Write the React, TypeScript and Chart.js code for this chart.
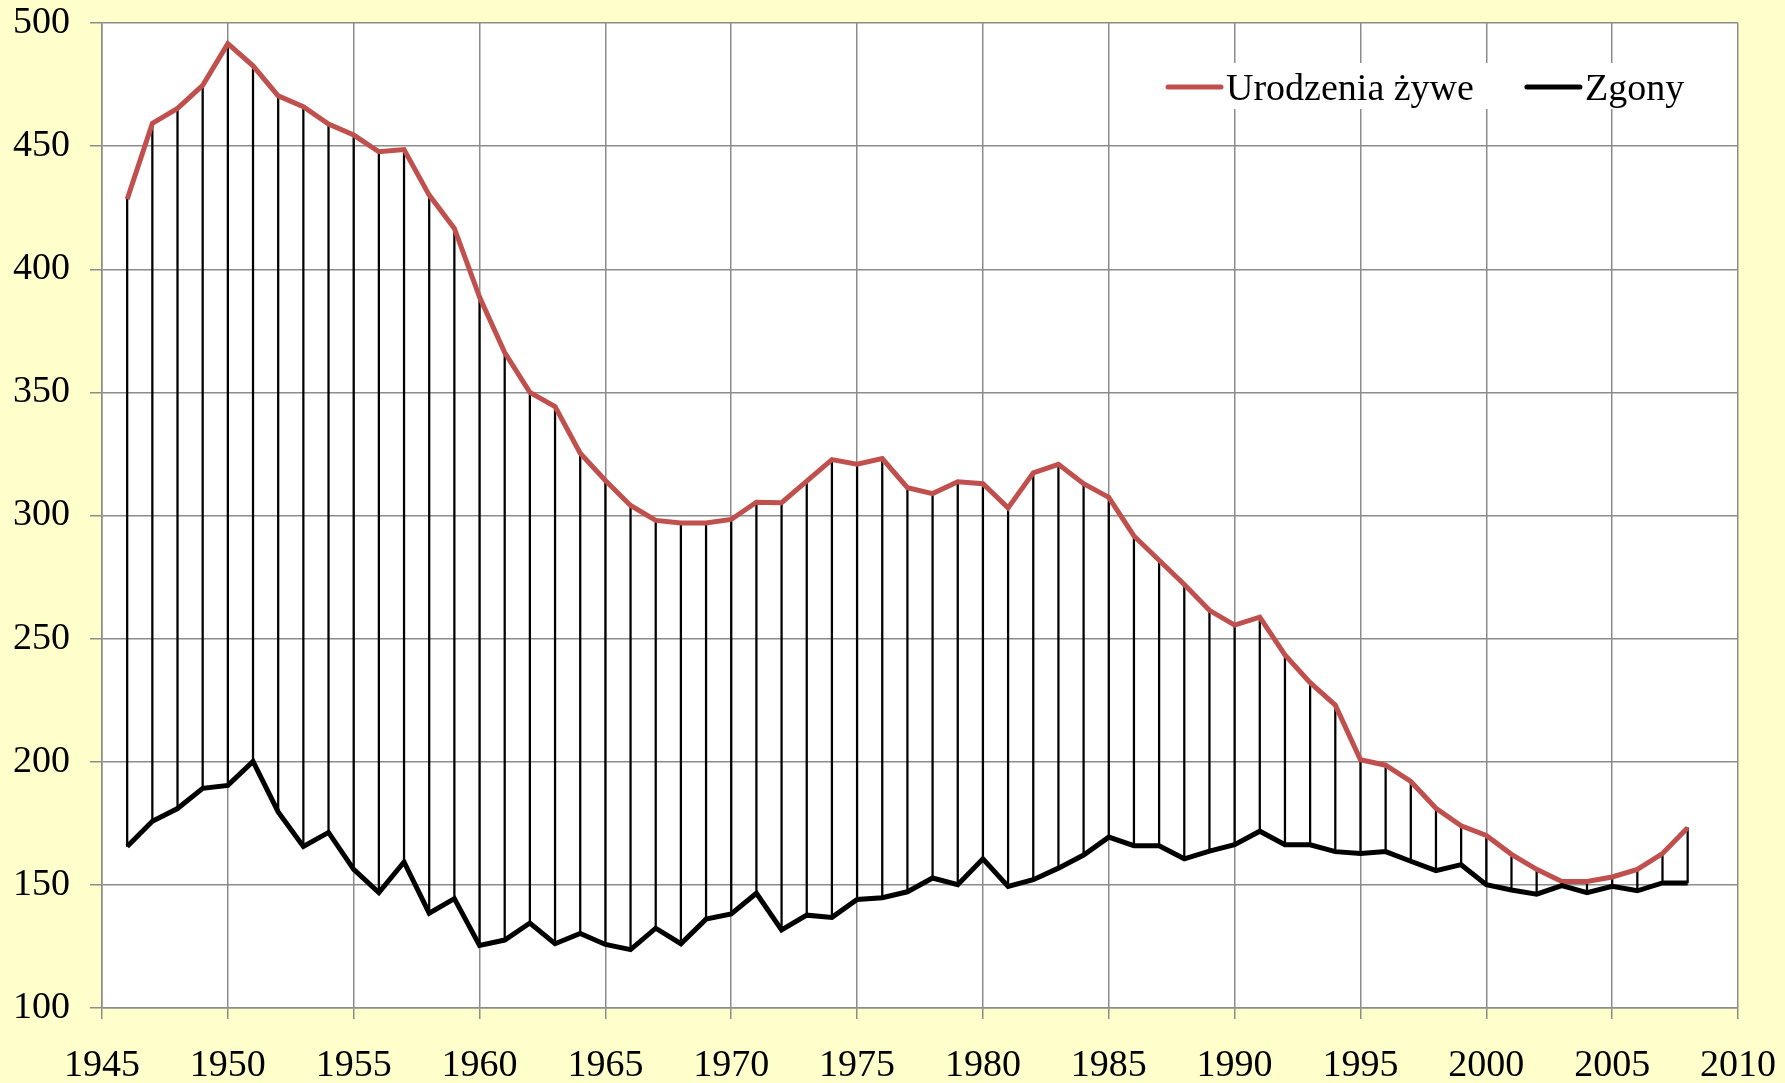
import { useEffect, useRef } from "react";
import { Chart, registerables } from "chart.js";

Chart.register(...registerables);

const FONT = "'Liberation Serif', 'Times New Roman', serif";

const years = [
  1946, 1947, 1948, 1949, 1950, 1951, 1952, 1953, 1954, 1955,
  1956, 1957, 1958, 1959, 1960, 1961, 1962, 1963, 1964, 1965,
  1966, 1967, 1968, 1969, 1970, 1971, 1972, 1973, 1974, 1975,
  1976, 1977, 1978, 1979, 1980, 1981, 1982, 1983, 1984, 1985,
  1986, 1987, 1988, 1989, 1990, 1991, 1992, 1993, 1994, 1995,
  1996, 1997, 1998, 1999, 2000, 2001, 2002, 2003, 2004, 2005,
  2006, 2007, 2008,
];

const births = [
  428.4, 459.2, 465.3, 474.7, 491.6, 482.6, 470.4, 466, 459, 454.5,
  447.7, 448.6, 430.1, 416.6, 388.7, 366.2, 350, 344.2, 325.3, 314.2,
  304.1, 298, 297, 297, 298.4, 305.4, 305.2, 314, 322.7, 320.8,
  323.1, 311.3, 308.9, 313.7, 312.9, 303.1, 317.3, 320.8, 312.9, 307.4,
  291.7, 281.8, 272, 261.5, 255.5, 258.7, 243.4, 232.1, 223, 200.8,
  198.6, 192, 181.1, 174, 170.1, 162.4, 156.3, 151.4, 151.4, 153.2,
  156.3, 162.7, 173.2,
];

const deaths = [
  165.6, 175.8, 181, 189.2, 190.4, 200.1, 179.6, 165.6, 171.3, 156.3,
  146.9, 159.3, 138.5, 144.4, 125.4, 127.6, 134.5, 126.1, 130.3, 125.8,
  123.7, 132.4, 126.1, 136.1, 138.2, 146.6, 131.7, 137.7, 136.8, 144.1,
  144.8, 147.2, 152.8, 150.1, 160.6, 149.4, 152.1, 156.8, 162.1, 169.4,
  165.9, 165.9, 160.6, 163.7, 166.3, 171.8, 166.3, 166.3, 163.5, 162.7,
  163.5, 159.6, 155.8, 158.2, 150.1, 147.9, 146.2, 149.7, 146.8, 149.4,
  147.6, 150.8, 150.8,
];

const seriesLabels = ["Urodzenia żywe", "Zgony"];
const seriesColors = ["#C0504D", "#000000"];

const X_MIN = 1945;
const X_MAX = 2010;
const Y_MIN = 100;
const Y_MAX = 500;

export default function App() {
  const ref = useRef<HTMLCanvasElement>(null);

  useEffect(() => {
    if (!ref.current) return;

    const bgPlugin = {
      id: "bgPlugin",
      beforeDraw(chart: any) {
        const { ctx, chartArea: a } = chart;
        ctx.save();
        ctx.fillStyle = "#FFFFCC";
        ctx.fillRect(0, 0, chart.width, chart.height);
        ctx.fillStyle = "#FFFFFF";
        ctx.fillRect(a.left, a.top, a.right - a.left, a.bottom - a.top);
        ctx.restore();
      },
    };

    const legendPlugin = {
      id: "legendPlugin",
      afterDraw(chart: any) {
        const { ctx } = chart;
        ctx.save();
        ctx.font = `38px ${FONT}`;
        const lineLen = 53;
        const gapText = 5;
        const gapItems = 53;
        const startX = 1168;
        const lineY = 87;
        const baseY = 100;
        let total = 0;
        seriesLabels.forEach((l, i) => {
          total += lineLen + gapText + ctx.measureText(l).width;
          if (i < seriesLabels.length - 1) total += gapItems;
        });
        ctx.fillStyle = "#FFFFFF";
        ctx.fillRect(startX - 9, 63, total + 18, 46);
        let x = startX;
        seriesLabels.forEach((l, i) => {
          ctx.strokeStyle = seriesColors[i];
          ctx.lineWidth = 5;
          ctx.lineCap = "round";
          ctx.beginPath();
          ctx.moveTo(x, lineY);
          ctx.lineTo(x + lineLen, lineY);
          ctx.stroke();
          x += lineLen + gapText;
          ctx.fillStyle = "#000000";
          ctx.textBaseline = "alphabetic";
          ctx.textAlign = "left";
          ctx.fillText(l, x, baseY);
          x += ctx.measureText(l).width + gapItems;
        });
        ctx.restore();
      },
    };

    const chart = new Chart(ref.current, {
      type: "line",
      data: {
        datasets: [
          {
            type: "line",
            label: seriesLabels[0],
            data: years.map((y, i) => ({ x: y, y: births[i] })),
            borderColor: seriesColors[0],
            borderWidth: 5,
            pointRadius: 0,
            tension: 0,
            borderJoinStyle: "miter",
            order: 1,
          } as any,
          {
            type: "line",
            label: seriesLabels[1],
            data: years.map((y, i) => ({ x: y, y: deaths[i] })),
            borderColor: seriesColors[1],
            borderWidth: 5,
            pointRadius: 0,
            tension: 0,
            borderJoinStyle: "miter",
            order: 0,
          } as any,
          {
            type: "bar",
            label: "hilo",
            data: years.map((y, i) => ({ x: y, y: [deaths[i], births[i]] })),
            backgroundColor: "#000000",
            borderWidth: 0,
            barThickness: 1.6,
            order: 5,
          } as any,
        ],
      },
      options: {
        responsive: false,
        animation: false,
        layout: { padding: { left: 0, top: 23, right: 47, bottom: 0 } },
        plugins: {
          legend: { display: false },
          tooltip: { enabled: false },
        },
        scales: {
          x: {
            type: "linear",
            min: X_MIN,
            max: X_MAX,
            offset: false,
            ticks: {
              stepSize: 5,
              color: "#000",
              font: { family: FONT, size: 38 },
              padding: 24,
              maxRotation: 0,
              callback: (v: any) => String(v),
            },
            grid: {
              color: "#8C8C8C",
              lineWidth: 1.5,
              tickLength: 11,
              offset: false,
            },
            border: { color: "#8C8C8C", width: 1.5 },
            afterFit: (s: any) => {
              s.height = 75;
              s.paddingLeft = 0;
              s.paddingRight = 0;
            },
          },
          y: {
            type: "linear",
            min: Y_MIN,
            max: Y_MAX,
            ticks: {
              stepSize: 50,
              color: "#000",
              font: { family: FONT, size: 38 },
              padding: 20,
            },
            grid: {
              color: "#8C8C8C",
              lineWidth: 1.5,
              tickLength: 12,
            },
            border: { color: "#8C8C8C", width: 1.5 },
            afterFit: (s: any) => {
              s.width = 102;
              s.paddingTop = 0;
              s.paddingBottom = 0;
            },
          },
        },
      } as any,
      plugins: [bgPlugin, legendPlugin],
    });

    return () => chart.destroy();
  }, []);

  return (
    <div style={{ position: "absolute", left: 0, top: 0, width: 1785, height: 1083, background: "#FFFFCC" }}>
      <canvas ref={ref} width={1785} height={1083} style={{ display: "block" }} />
    </div>
  );
}
